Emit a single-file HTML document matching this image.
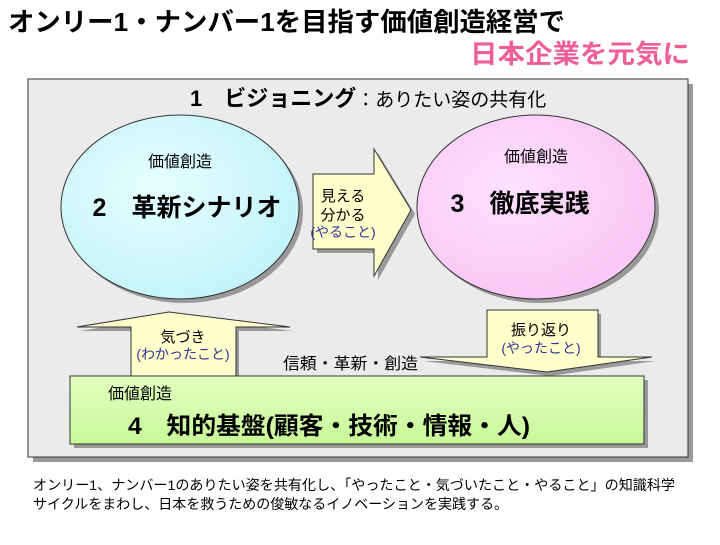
<!DOCTYPE html>
<html><head><meta charset="utf-8"><style>
body{margin:0;background:#fff;width:720px;height:540px;overflow:hidden;font-family:"Liberation Sans","Noto Sans CJK JP",sans-serif}
</style></head><body>
<svg width="720" height="540" xmlns="http://www.w3.org/2000/svg" font-family="Liberation Sans, Noto Sans CJK JP, sans-serif">
<defs>
<radialGradient id="cy" cx="0.4" cy="0.4" r="0.7"><stop offset="0" stop-color="#e6ffff"/><stop offset="1" stop-color="#bff2f8"/></radialGradient>
<radialGradient id="pk" cx="0.4" cy="0.4" r="0.7"><stop offset="0" stop-color="#ffe0ff"/><stop offset="1" stop-color="#f9c4f5"/></radialGradient>
<linearGradient id="gr" x1="0" y1="0" x2="0" y2="1"><stop offset="0" stop-color="#e2ffc0"/><stop offset="1" stop-color="#c8f898"/></linearGradient>
</defs>
<text x="8" y="31" font-size="26" font-weight="bold" fill="#000" textLength="557" lengthAdjust="spacingAndGlyphs">オンリー1・ナンバー1を目指す価値創造経営で</text>
<text x="470" y="63" font-size="26" font-weight="bold" fill="#ee5f98" textLength="220" lengthAdjust="spacingAndGlyphs">日本企業を元気に</text>
<rect x="33" y="84" width="660" height="378" fill="#999"/>
<rect x="28" y="79" width="660" height="378" fill="#ebebeb" stroke="#333" stroke-width="1"/>
<text x="190" y="106" font-size="22" font-weight="bold">1　ビジョニング<tspan font-size="19" font-weight="normal">：ありたい姿の共有化</tspan></text>
<ellipse cx="184" cy="211" rx="119" ry="92" fill="#999"/>
<ellipse cx="180" cy="207" rx="119" ry="92" fill="url(#cy)" stroke="#333"/>
<ellipse cx="540" cy="211" rx="119" ry="92" fill="#999"/>
<ellipse cx="536" cy="207" rx="119" ry="92" fill="url(#pk)" stroke="#333"/>
<text x="180" y="167" font-size="16" text-anchor="middle">価値創造</text>
<text x="187" y="216" font-size="25" font-weight="bold" text-anchor="middle">2　革新シナリオ</text>
<text x="536" y="162" font-size="16" text-anchor="middle">価値創造</text>
<text x="520" y="212" font-size="25" font-weight="bold" text-anchor="middle">3　徹底実践</text>
<polygon points="317,178 378,178 378,153 415,214 378,280 378,253 317,253" fill="#999"/>
<polygon points="313,174 374,174 374,149 411,210 374,276 374,249 313,249" fill="#ffffcc" stroke="#333"/>
<text x="343" y="201" font-size="15" text-anchor="middle">見える</text>
<text x="343" y="220" font-size="15" text-anchor="middle">分かる</text>
<text x="343" y="237" font-size="14" fill="#333399" text-anchor="middle">(やること)</text>
<polygon points="80,331 172,316 293,331 239,331 239,382 134,382 134,331" fill="#999"/>
<polygon points="77,327 169,312 290,327 236,327 236,378 131,378 131,327" fill="#ffffcc" stroke="#333"/>
<text x="183" y="342" font-size="15" text-anchor="middle">気づき</text>
<text x="183" y="359" font-size="14" fill="#333399" text-anchor="middle">(わかったこと)</text>
<polygon points="490,314 601,314 601,361 655,361 550,376 423,361 490,361" fill="#999"/>
<polygon points="487,310 598,310 598,357 652,357 547,372 420,357 487,357" fill="#ffffcc" stroke="#333"/>
<text x="541" y="335" font-size="15" text-anchor="middle">振り返り</text>
<text x="541" y="353" font-size="14" fill="#333399" text-anchor="middle">(やったこと)</text>
<text x="283" y="369" font-size="16" textLength="135" lengthAdjust="spacingAndGlyphs">信頼・革新・創造</text>
<rect x="74" y="380" width="574" height="68" fill="#999"/>
<rect x="70" y="376" width="574" height="68" fill="url(#gr)" stroke="#333"/>
<text x="108" y="399" font-size="16">価値創造</text>
<text x="128" y="434" font-size="24" font-weight="bold" textLength="402" lengthAdjust="spacingAndGlyphs">4　知的基盤(顧客・技術・情報・人)</text>
<text x="33" y="490" font-size="14" textLength="642" lengthAdjust="spacingAndGlyphs">オンリー1、ナンバー1のありたい姿を共有化し、「やったこと・気づいたこと・やること」の知識科学</text>
<text x="33" y="509" font-size="14">サイクルをまわし、日本を救うための俊敏なるイノベーションを実践する。</text>
</svg>
</body></html>
